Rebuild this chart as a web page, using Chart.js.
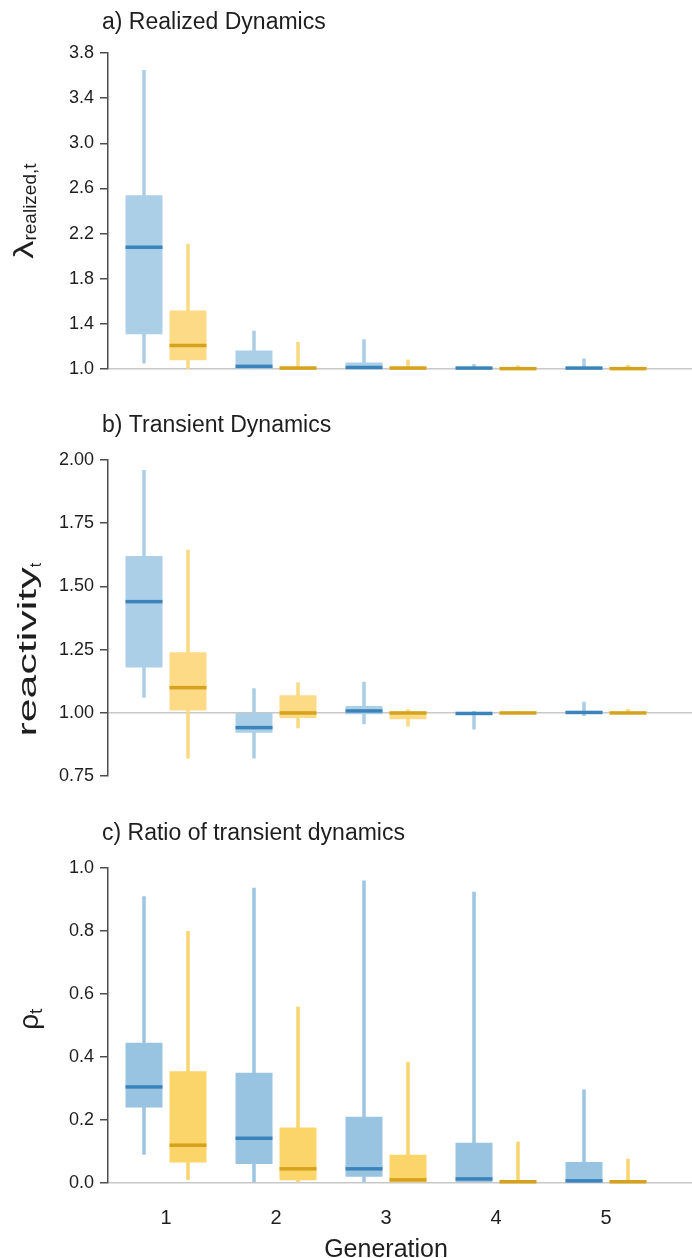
<!DOCTYPE html>
<html>
<head>
<meta charset="utf-8">
<script src="https://cdn.jsdelivr.net/npm/chart.js@4.4.1/dist/chart.umd.min.js"></script>
<style>
  html, body { margin: 0; padding: 0; background: #fff; }
  #wrap { position: relative; width: 692px; height: 1258px; overflow: hidden; }
  .panel { position: absolute; left: 0; width: 692px; }
</style>
</head>
<body>
<div id="wrap">
  <div class="panel" style="top:0;height:386px"><canvas id="chartA"></canvas></div>
  <div class="panel" style="top:380px;height:413px"><canvas id="chartB"></canvas></div>
  <div class="panel" style="top:790px;height:468px"><canvas id="chartC"></canvas></div>
</div>
<script>
/* =========================================
   DATA
   ========================================= */
const generations = [1, 2, 3, 4, 5];

// one row per generation: [min, q1, median, q3, max]
const realizedBlue = [
  [1.05, 1.31, 2.08, 2.54, 3.65],
  [1.00, 1.005, 1.025, 1.165, 1.34],
  [1.00, 1.00, 1.015, 1.06, 1.265],
  [1.00, 1.00, 1.01, 1.02, 1.047],
  [1.00, 1.00, 1.01, 1.02, 1.095]
];
const realizedYellow = [
  [1.00, 1.08, 1.21, 1.52, 2.11],
  [1.00, 1.00, 1.01, 1.02, 1.24],
  [1.00, 1.00, 1.01, 1.02, 1.085],
  [1.00, 1.00, 1.005, 1.015, 1.035],
  [1.00, 1.00, 1.005, 1.015, 1.04]
];

const reactivityBlue = [
  [1.06, 1.18, 1.44, 1.62, 1.96],
  [0.82, 0.922, 0.942, 1.00, 1.098],
  [0.955, 0.995, 1.008, 1.028, 1.123],
  [0.935, 0.995, 0.998, 1.002, 1.008],
  [0.988, 0.997, 1.002, 1.008, 1.044]
];
const reactivityYellow = [
  [0.82, 1.01, 1.10, 1.24, 1.645],
  [0.94, 0.98, 1.00, 1.07, 1.12],
  [0.946, 0.975, 1.00, 1.004, 1.015],
  [0.995, 0.998, 1.00, 1.003, 1.008],
  [0.995, 0.997, 1.00, 1.003, 1.017]
];

const ratioBlue = [
  [0.09, 0.24, 0.305, 0.445, 0.91],
  [0.003, 0.06, 0.142, 0.35, 0.937],
  [0.0, 0.02, 0.045, 0.21, 0.96],
  [0.0, 0.003, 0.013, 0.128, 0.925],
  [0.0, 0.001, 0.007, 0.067, 0.297]
];
const ratioYellow = [
  [0.01, 0.065, 0.12, 0.355, 0.80],
  [0.0, 0.009, 0.045, 0.176, 0.56],
  [0.0, 0.0, 0.01, 0.09, 0.384],
  [0.0, 0.0, 0.004, 0.006, 0.131],
  [0.0, 0.0, 0.004, 0.006, 0.077]
];

const ticksRealized = ['1.0', '1.4', '1.8', '2.2', '2.6', '3.0', '3.4', '3.8'];
const ticksReactivity = ['0.75', '1.00', '1.25', '1.50', '1.75', '2.00'];
const ticksRatio = ['0.0', '0.2', '0.4', '0.6', '0.8', '1.0'];


/* =========================================
   STYLE
   ========================================= */
const FONT = '"Liberation Sans", Arial, Helvetica, sans-serif';
const AXIS_COLOR = '#4d4d4d';
const TEXT_COLOR = '#1e1e1e';
const REF_COLOR = '#c8c8c8';
const MEDIAN_WIDTH = 3.5;
const WHISKER_WIDTH = 3.5;

// x range so that generation 1 sits 58px right of the axis, 110px per generation
const X_MIN = 0.4727;
const X_MAX = 5.7818;


/* =========================================
   PLUGINS
   ========================================= */
// median bar over each box, positioned from the box element and the y scale
const medianLines = {
  id: 'medianLines',
  afterDatasetsDraw(chart) {
    const { ctx } = chart;
    const yScale = chart.scales.y;
    chart.data.datasets.forEach((ds, i) => {
      if (!ds.medians) return;
      const meta = chart.getDatasetMeta(i);
      ctx.save();
      ctx.fillStyle = ds.medianColor;
      meta.data.forEach((bar, j) => {
        const py = yScale.getPixelForValue(ds.medians[j]);
        ctx.fillRect(bar.x - bar.width / 2, py - MEDIAN_WIDTH / 2, bar.width, MEDIAN_WIDTH);
      });
      ctx.restore();
    });
  }
};

// panel title, y label with subscripts, optional x label
const panelText = {
  id: 'panelText',
  afterDraw(chart, args, opts) {
    const { ctx, chartArea } = chart;
    ctx.save();
    ctx.fillStyle = TEXT_COLOR;
    ctx.textBaseline = 'alphabetic';
    ctx.textAlign = 'left';

    ctx.font = `23px ${FONT}`;
    ctx.fillText(opts.title, chartArea.left - 6, chartArea.top - opts.titleGap);

    // rotated y label made of parts
    let total = 0;
    opts.yLabel.forEach(p => {
      ctx.font = `${p.size}px ${FONT}`;
      p.w = ctx.measureText(p.text).width * (p.stretch || 1);
      total += p.w;
    });
    const cy = chartArea.top + opts.yLabelPos * (chartArea.bottom - chartArea.top);
    ctx.save();
    ctx.translate(opts.yLabelX, cy);
    ctx.rotate(-Math.PI / 2);
    let x = -total / 2;
    opts.yLabel.forEach(p => {
      ctx.save();
      ctx.translate(x, p.dy || 0);
      ctx.scale(p.stretch || 1, 1);
      ctx.font = `${p.size}px ${FONT}`;
      ctx.fillText(p.text, 0, 0);
      ctx.restore();
      x += p.w;
    });
    ctx.restore();

    if (opts.xLabel) {
      const xs = chart.scales.x;
      const cx = (xs.getPixelForValue(generations[0]) + xs.getPixelForValue(generations[generations.length - 1])) / 2;
      ctx.font = `25px ${FONT}`;
      ctx.textAlign = 'center';
      ctx.fillText(opts.xLabel, cx, chartArea.bottom + opts.xLabelGap);
    }
    ctx.restore();
  }
};


/* =========================================
   CHART BUILDER
   ========================================= */
function boxData(stats, lo, hi) {
  return generations.map((g, i) => ({ x: g, y: [stats[i][lo], stats[i][hi]] }));
}

function makePanel(canvasId, blue, yellow, tickLabels, cfg) {
  const tickValues = tickLabels.map(parseFloat);
  const refValue = cfg.refValue;

  const datasets = [
    {
      label: 'blue box', stack: 'blue',
      data: boxData(blue, 1, 3),
      backgroundColor: cfg.blueBox,
      medians: blue.map(r => r[2]), medianColor: '#3b84bb'
    },
    {
      label: 'yellow box', stack: 'yellow',
      data: boxData(yellow, 1, 3),
      backgroundColor: cfg.yellowBox,
      medians: yellow.map(r => r[2]), medianColor: '#d6a11c'
    },
    {
      label: 'blue whisker', stack: 'blue',
      data: boxData(blue, 0, 4),
      backgroundColor: cfg.blueWhisker,
      maxBarThickness: WHISKER_WIDTH
    },
    {
      label: 'yellow whisker', stack: 'yellow',
      data: boxData(yellow, 0, 4),
      backgroundColor: cfg.yellowWhisker,
      maxBarThickness: WHISKER_WIDTH
    }
  ];

  return new Chart(document.getElementById(canvasId), {
    type: 'bar',
    data: { datasets },
    options: {
      responsive: true,
      maintainAspectRatio: false,
      animation: false,
      events: [],
      layout: { padding: cfg.padding },
      datasets: {
        bar: {
          categoryPercentage: 0.8,
          barPercentage: 0.84,
          borderWidth: 0,
          borderSkipped: false,
          grouped: true
        }
      },
      plugins: {
        legend: { display: false },
        tooltip: { enabled: false },
        panelText: {
          title: cfg.title,
          titleGap: cfg.titleGap,
          yLabel: cfg.yLabel,
          yLabelX: cfg.yLabelX,
          yLabelPos: cfg.yLabelPos,
          xLabel: cfg.xLabel,
          xLabelGap: cfg.xLabelGap
        }
      },
      scales: {
        x: {
          type: 'linear',
          display: cfg.showX,
          min: X_MIN,
          max: X_MAX,
          offset: false,
          stacked: true,
          grid: { display: false, drawTicks: false },
          border: { display: false },
          afterBuildTicks: s => { s.ticks = generations.map(v => ({ value: v })); },
          ticks: {
            padding: 23,
            color: TEXT_COLOR,
            font: { family: FONT, size: 20 },
            callback: v => String(v)
          }
        },
        y: {
          type: 'linear',
          stacked: false,
          min: tickValues[0],
          max: tickValues[tickValues.length - 1],
          afterBuildTicks: s => { s.ticks = tickValues.map(v => ({ value: v })); },
          afterFit: s => { s.width = 108; },
          border: { display: true, color: AXIS_COLOR, width: 1.5 },
          grid: {
            drawOnChartArea: true,
            drawTicks: true,
            tickLength: 8,
            tickWidth: 1.5,
            tickColor: AXIS_COLOR,
            lineWidth: 1.5,
            color: ctx => (ctx.tick && Math.abs(ctx.tick.value - refValue) < 1e-9) ? REF_COLOR : 'rgba(0,0,0,0)'
          },
          ticks: {
            padding: 6,
            color: TEXT_COLOR,
            font: { family: FONT, size: 18 },
            callback: (v, i) => tickLabels[i]
          }
        }
      }
    },
    plugins: [medianLines, panelText]
  });
}


/* =========================================
   STARTUP
   ========================================= */
makePanel('chartA', realizedBlue, realizedYellow, ticksRealized, {
  refValue: 1.0,
  padding: { top: 53, bottom: 12, left: 0, right: 0 },
  showX: false,
  title: 'a) Realized Dynamics', titleGap: 24,
  yLabel: [{ text: 'λ', size: 28, stretch: 1.3 }, { text: 'realized,t', size: 19, dy: 3 }],
  yLabelX: 33, yLabelPos: 0.5,
  blueBox: '#abcfe7', yellowBox: '#fdda86',
  blueWhisker: '#abcde5', yellowWhisker: '#f9da80'
});

makePanel('chartB', reactivityBlue, reactivityYellow, ticksReactivity, {
  refValue: 1.0,
  padding: { top: 80, bottom: 15, left: 0, right: 0 },
  showX: false,
  title: 'b) Transient Dynamics', titleGap: 28,
  yLabel: [{ text: 'reactivity', size: 26, stretch: 1.65 }, { text: 't', size: 16, dy: 5 }],
  yLabelX: 36, yLabelPos: 0.6,
  blueBox: '#abcfe7', yellowBox: '#fdda86',
  blueWhisker: '#abcde5', yellowWhisker: '#f9da80'
});

makePanel('chartC', ratioBlue, ratioYellow, ticksRatio, {
  refValue: 0.0,
  padding: { top: 78, bottom: 5, left: 0, right: 0 },
  showX: true,
  title: 'c) Ratio of transient dynamics', titleGap: 28,
  yLabel: [{ text: 'ρ', size: 28 }, { text: 't', size: 19, dy: 4 }],
  yLabelX: 38, yLabelPos: 0.48,
  xLabel: 'Generation', xLabelGap: 74,
  blueBox: '#98c3e1', yellowBox: '#fbd46a',
  blueWhisker: '#9cc5e1', yellowWhisker: '#f8d56e'
});
</script>
</body>
</html>
